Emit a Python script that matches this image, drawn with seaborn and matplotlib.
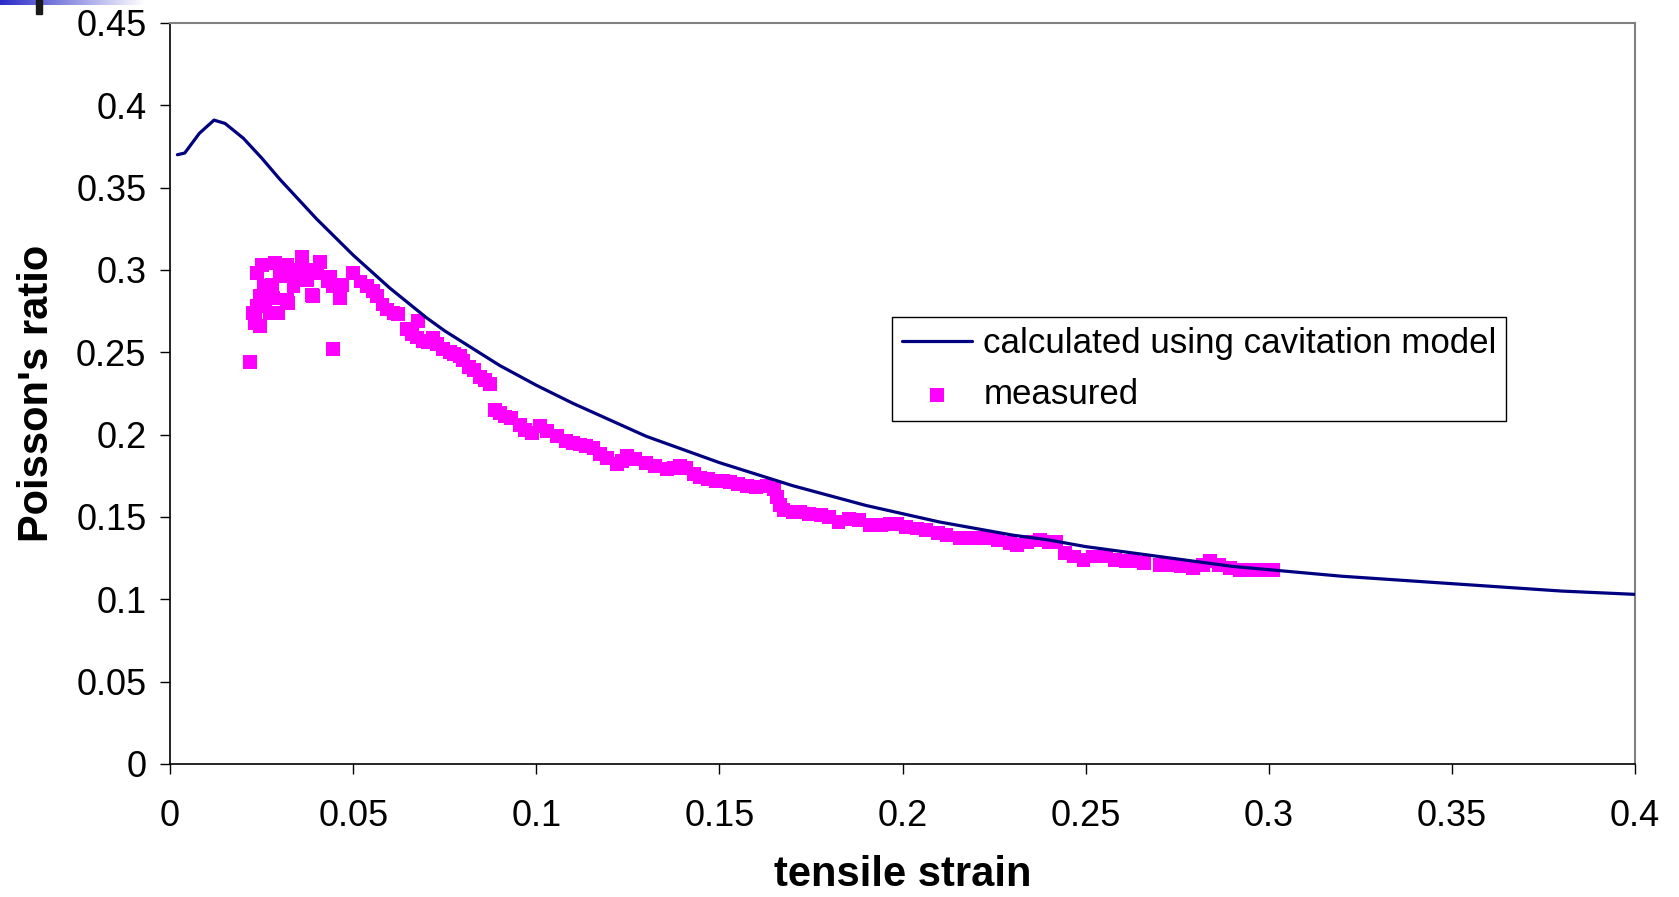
import numpy as np
import pandas as pd
import matplotlib.pyplot as plt
import seaborn as sns

# model curve
calc_strain = [0.002, 0.004, 0.008, 0.012, 0.015, 0.02, 0.025, 0.03, 0.035, 0.04,
               0.045, 0.05, 0.055, 0.06, 0.065, 0.07, 0.075, 0.08, 0.085, 0.09,
               0.095, 0.1, 0.11, 0.12, 0.13, 0.14, 0.15, 0.16, 0.17, 0.18,
               0.19, 0.2, 0.21, 0.22, 0.23, 0.24, 0.25, 0.26, 0.27, 0.28,
               0.29, 0.3, 0.32, 0.34, 0.36, 0.38, 0.4]
calc_ratio = [0.370, 0.371, 0.383, 0.391, 0.389, 0.380, 0.368, 0.355, 0.343, 0.331,
              0.320, 0.309, 0.299, 0.289, 0.280, 0.271, 0.263, 0.256, 0.249, 0.242,
              0.236, 0.230, 0.219, 0.209, 0.199, 0.191, 0.183, 0.176, 0.169, 0.163,
              0.157, 0.152, 0.147, 0.143, 0.139, 0.136, 0.132, 0.129, 0.126, 0.123,
              0.120, 0.118, 0.114, 0.111, 0.108, 0.105, 0.103]

# measured points
meas_strain = [0.0218, 0.0446, 0.0232, 0.0246, 0.0227, 0.0246, 0.0237, 0.025, 0.0287, 0.0319,
               0.036, 0.041, 0.0373, 0.0319, 0.0273, 0.0278, 0.0337, 0.0387, 0.0446, 0.0464,
               0.0437, 0.0346, 0.030, 0.0255, 0.0237, 0.0296, 0.0323, 0.0391, 0.0232, 0.0268,
               0.033, 0.038, 0.043, 0.047, 0.028, 0.035, 0.040, 0.026,
               0.050, 0.052, 0.0537, 0.0555, 0.0564, 0.058, 0.0592, 0.061, 0.0623, 0.0646,
               0.066, 0.0674, 0.0678, 0.069, 0.0705, 0.0719, 0.073, 0.0746, 0.0765, 0.0775,
               0.0792, 0.080, 0.0815, 0.083, 0.0846, 0.086, 0.0874, 0.0887, 0.090, 0.0915,
               0.093, 0.0956, 0.097, 0.0988, 0.101, 0.103, 0.1056, 0.108, 0.110, 0.112,
               0.1135, 0.1156, 0.1175, 0.1192, 0.122, 0.1235, 0.1247, 0.127, 0.130, 0.1325,
               0.1356, 0.1375, 0.1393, 0.141, 0.143, 0.1447, 0.147, 0.149, 0.1511, 0.153,
               0.155, 0.1575, 0.160, 0.163, 0.165, 0.1657, 0.1666, 0.1675, 0.170, 0.172,
               0.1745, 0.1778, 0.180, 0.1825, 0.1854, 0.188, 0.191, 0.194, 0.1965, 0.1985,
               0.201, 0.204, 0.2065, 0.2098, 0.212, 0.2157, 0.218, 0.220, 0.223, 0.226,
               0.2294, 0.2312, 0.234, 0.2375, 0.240, 0.242, 0.2444, 0.2467, 0.2494, 0.252,
               0.2557, 0.258, 0.261, 0.263, 0.266, 0.2703, 0.273, 0.276, 0.2794, 0.282,
               0.284, 0.2865, 0.2894, 0.292, 0.2945, 0.2967, 0.299, 0.3013]
meas_ratio = [0.244, 0.252, 0.268, 0.266, 0.274, 0.284, 0.298, 0.303, 0.304, 0.303,
              0.308, 0.305, 0.294, 0.282, 0.274, 0.291, 0.290, 0.285, 0.290, 0.283,
              0.296, 0.300, 0.296, 0.290, 0.278, 0.274, 0.280, 0.284, 0.271, 0.286,
              0.297, 0.300, 0.293, 0.291, 0.283, 0.295, 0.298, 0.279,
              0.298, 0.293, 0.290, 0.287, 0.284, 0.279, 0.276, 0.274, 0.273, 0.264,
              0.261, 0.259, 0.269, 0.257, 0.256, 0.259, 0.255, 0.252, 0.250, 0.249,
              0.248, 0.245, 0.241, 0.239, 0.235, 0.233, 0.231, 0.215, 0.213, 0.211,
              0.210, 0.206, 0.203, 0.201, 0.205, 0.202, 0.199, 0.196, 0.195, 0.194,
              0.193, 0.192, 0.188, 0.186, 0.182, 0.184, 0.187, 0.185, 0.183, 0.181,
              0.179, 0.180, 0.181, 0.180, 0.176, 0.174, 0.173, 0.172, 0.172, 0.171,
              0.170, 0.169, 0.168, 0.169, 0.167, 0.162, 0.157, 0.154, 0.153, 0.153,
              0.152, 0.151, 0.150, 0.147, 0.149, 0.148, 0.145, 0.145, 0.146, 0.146,
              0.144, 0.143, 0.142, 0.140, 0.139, 0.137, 0.137, 0.137, 0.137, 0.136,
              0.134, 0.133, 0.135, 0.136, 0.135, 0.135, 0.128, 0.126, 0.124, 0.126,
              0.126, 0.124, 0.123, 0.123, 0.122, 0.121, 0.121, 0.120, 0.119, 0.121,
              0.123, 0.121, 0.119, 0.118, 0.118, 0.118, 0.118, 0.118]

calc_df = pd.DataFrame({'strain': calc_strain, 'ratio': calc_ratio})
meas_df = pd.DataFrame({'strain': meas_strain, 'ratio': meas_ratio})

sns.set_theme(style='white')
plt.rcParams['font.family'] = ['Liberation Sans', 'DejaVu Sans']
plt.rcParams['text.color'] = 'black'
plt.rcParams['axes.labelcolor'] = 'black'
plt.rcParams['xtick.color'] = 'black'
plt.rcParams['ytick.color'] = 'black'

fig = plt.figure(figsize=(16.79, 8.97), dpi=100)
ax = fig.add_axes([0.1013, 0.1483, 0.8725, 0.8261])

sns.scatterplot(data=meas_df, x='strain', y='ratio', marker='s', s=100,
                color='#ff00ff', edgecolor='none', linewidth=0, ax=ax,
                label='measured', zorder=2)
sns.lineplot(data=calc_df, x='strain', y='ratio', color='#000080', lw=2.3,
             estimator=None, sort=False, ax=ax,
             label='calculated using cavitation model', zorder=3)

ax.set_xlim(0, 0.4)
ax.set_ylim(0, 0.45)
ax.set_xticks(np.arange(0, 0.401, 0.05))
ax.set_yticks(np.arange(0, 0.451, 0.05))
ax.set_xticklabels(['%g' % round(v, 2) for v in np.arange(0, 0.401, 0.05)])
ax.set_yticklabels(['%g' % round(v, 2) for v in np.arange(0, 0.451, 0.05)])
ax.tick_params(axis='both', labelsize=26, length=7, width=1, colors='black',
               direction='out')
ax.tick_params(axis='x', pad=18, bottom=True)
ax.tick_params(axis='y', pad=10, left=True)

for side in ['left', 'bottom']:
    ax.spines[side].set_color('black')
    ax.spines[side].set_linewidth(1.2)
for side in ['top', 'right']:
    ax.spines[side].set_color('#808080')
    ax.spines[side].set_linewidth(1.5)

ax.set_xlabel('tensile strain', fontsize=30, fontweight='bold', labelpad=15)
ax.set_ylabel("Poisson's ratio", fontsize=30, fontweight='bold', labelpad=14)

handles, labels = ax.get_legend_handles_labels()
order = [labels.index('calculated using cavitation model'), labels.index('measured')]
leg = ax.legend([handles[i] for i in order], [labels[i] for i in order],
                loc='upper left', bbox_to_anchor=(0.493, 0.603), fontsize=25.1,
                frameon=True, fancybox=False, edgecolor='black', framealpha=1,
                handlelength=2.0, handletextpad=0.33, borderpad=0.28,
                labelspacing=0.52, borderaxespad=0, markerscale=1.0)
leg.get_frame().set_linewidth(1.0)

# slide decoration in the top-left corner
deco = fig.add_axes([0, 1 - 5 / 897, 145 / 1679, 5 / 897])
grad = np.linspace(0, 1, 256).reshape(1, -1)
deco.imshow(grad, aspect='auto', cmap=sns.blend_palette(['#2a2ac8', '#ffffff'], as_cmap=True))
deco.axis('off')
fig.patches.append(plt.Rectangle((36 / 1679, 1 - 14 / 897), 6 / 1679, 14 / 897,
                                 transform=fig.transFigure, color='#1a1a1a'))

fig.savefig('out.png', dpi=100)
